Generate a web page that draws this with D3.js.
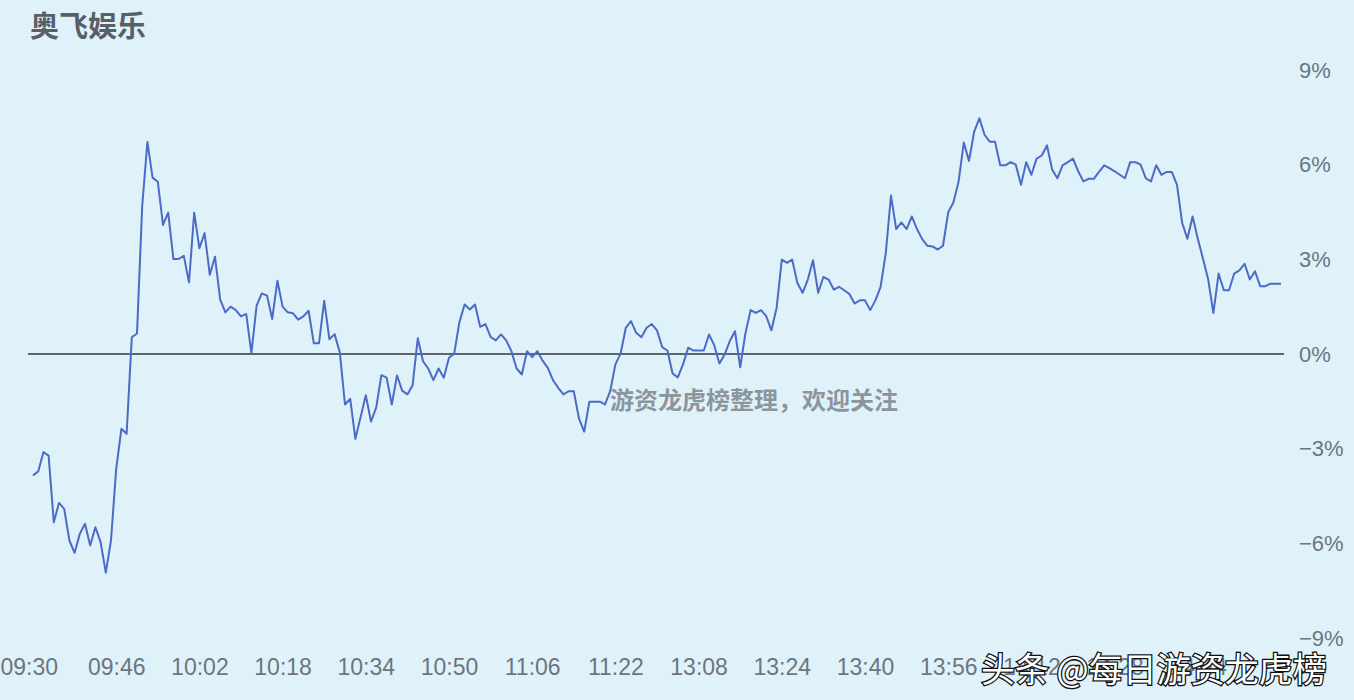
<!DOCTYPE html>
<html><head><meta charset="utf-8">
<script src="https://cdn.jsdelivr.net/npm/d3@7"></script>
<style>
html,body{margin:0;padding:0;background:#dff2fa;}
svg{display:block;}
</style></head>
<body>
<svg id="c" width="1354" height="700"></svg>
<script>
const title = "奥飞娱乐";
// percent change, one point per trading minute (09:30–11:30, 13:01–15:00)
const values = [
-3.85,-3.72,-3.11,-3.22,-5.33,-4.72,-4.91,-5.91,-6.30,-5.70,
-5.38,-6.07,-5.49,-5.96,-6.93,-5.91,-3.64,-2.37,-2.53,0.53,
0.65,4.69,6.72,5.59,5.46,4.09,4.48,3.01,3.01,3.11,
2.27,4.48,3.35,3.83,2.51,3.08,1.72,1.32,1.50,1.39,
1.19,1.27,0.03,1.53,1.92,1.85,1.11,2.32,1.50,1.32,
1.29,1.09,1.19,1.37,0.34,0.34,1.69,0.47,0.63,0.05,
-1.60,-1.42,-2.69,-2.00,-1.31,-2.14,-1.70,-0.67,-0.75,-1.60,
-0.68,-1.16,-1.28,-0.99,0.50,-0.23,-0.46,-0.83,-0.46,-0.75,
-0.12,0.01,1.01,1.57,1.41,1.57,0.86,0.95,0.54,0.43,
0.62,0.43,0.09,-0.46,-0.65,0.09,-0.10,0.09,-0.21,-0.44,
-0.83,-1.07,-1.28,-1.18,-1.18,-2.05,-2.46,-1.51,-1.51,-1.51,
-1.60,-1.18,-0.33,0.01,0.83,1.04,0.67,0.53,0.83,0.95,
0.75,0.22,0.11,-0.62,-0.74,-0.33,0.20,0.11,0.11,0.11,
0.62,0.28,-0.30,-0.02,0.41,0.72,-0.42,0.65,1.39,1.30,
1.39,1.20,0.75,1.46,2.99,2.89,2.99,2.25,1.94,2.36,
2.97,1.94,2.44,2.36,2.04,2.13,2.02,1.90,1.60,1.70,
1.70,1.39,1.70,2.13,3.20,5.02,3.96,4.17,3.96,4.36,
3.96,3.64,3.43,3.41,3.31,3.43,4.49,4.80,5.47,6.70,
6.12,7.05,7.47,6.94,6.73,6.73,5.98,5.98,6.08,6.00,
5.36,6.08,5.68,6.19,6.29,6.61,5.84,5.57,5.98,6.08,
6.19,5.79,5.47,5.55,5.55,5.77,5.98,5.89,5.79,5.68,
5.57,6.08,6.08,6.00,5.57,5.47,5.98,5.68,5.77,5.77,
5.36,4.15,3.65,4.36,3.65,3.02,2.36,1.30,2.55,2.02,
2.02,2.55,2.65,2.86,2.36,2.62,2.15,2.15,2.23,2.23,
2.23
];
const xTickIndex = [0,16,32,48,64,80,96,112,128,144,160,176,192,208,224];
const xTickLabels = ["09:30","09:46","10:02","10:18","10:34","10:50","11:06","11:22","13:08","13:24","13:40","13:56","14:12","14:28","14:44"];
const yTicks = [9,6,3,0,-3,-6,-9];
const watermark = "游资龙虎榜整理，欢迎关注";
const credit = "头条 @每日游资龙虎榜";

const svg = d3.select("#c");
const x = d3.scaleLinear().domain([0,240]).range([33,1281]);
const y = d3.scaleLinear().domain([-9,9]).range([638,70]);
const font = "'Liberation Sans','Noto Sans CJK SC',sans-serif";

svg.append("rect").attr("width",1354).attr("height",700).attr("fill","#dff2fa");

svg.append("text").attr("x",30).attr("y",37).text(title)
  .attr("font-family","'Noto Sans CJK SC',sans-serif").attr("font-weight","bold")
  .attr("font-size",29).attr("fill","#595f67");

// y axis labels on the right
const yAxis = d3.axisRight(y).tickValues(yTicks)
  .tickFormat(d => (d<0?"\u2212":"") + Math.abs(d) + "%").tickSize(0).tickPadding(0);
const ya = svg.append("g").attr("transform","translate(1299,0)").call(yAxis);
ya.select(".domain").remove();
ya.selectAll("text").attr("font-family",font).attr("font-size",22).attr("fill","#6c7580")
  .attr("text-anchor","start");

// x axis labels
const xAxis = d3.axisBottom(x).tickValues(xTickIndex)
  .tickFormat((d,i) => xTickLabels[i]).tickSize(0).tickPadding(0);
const xa = svg.append("g").attr("transform","translate(0,659)").call(xAxis);
xa.select(".domain").remove();
xa.selectAll("text").attr("font-family",font).attr("font-size",23).attr("fill","#6c7580")
  .attr("dy","0.71em");
xa.selectAll(".tick").filter((d,i)=>i===0).select("text").attr("text-anchor","start").attr("x",-33);

// zero line
svg.append("line").attr("x1",28).attr("x2",1284).attr("y1",y(0)).attr("y2",y(0))
  .attr("stroke","#5e6570").attr("stroke-width",2);

// price line
const line = d3.line().x((d,i)=>x(i)).y(d=>y(d));
svg.append("path").datum(values).attr("d",line).attr("fill","none")
  .attr("stroke","#4b6bc6").attr("stroke-width",2).attr("stroke-linejoin","round");

// watermark
svg.append("text").attr("x",610).attr("y",409).text(watermark)
  .attr("font-family","'Noto Sans CJK SC',sans-serif").attr("font-weight","bold")
  .attr("font-size",24).attr("fill","#8d959c");

svg.append("text").attr("x",981).attr("y",682).text(credit)
  .attr("font-family","'Noto Sans CJK SC',sans-serif")
  .attr("font-size",34).attr("fill","#ffffff").attr("stroke","#111")
  .attr("stroke-width",2.6).attr("paint-order","stroke");
</script>
</body></html>
